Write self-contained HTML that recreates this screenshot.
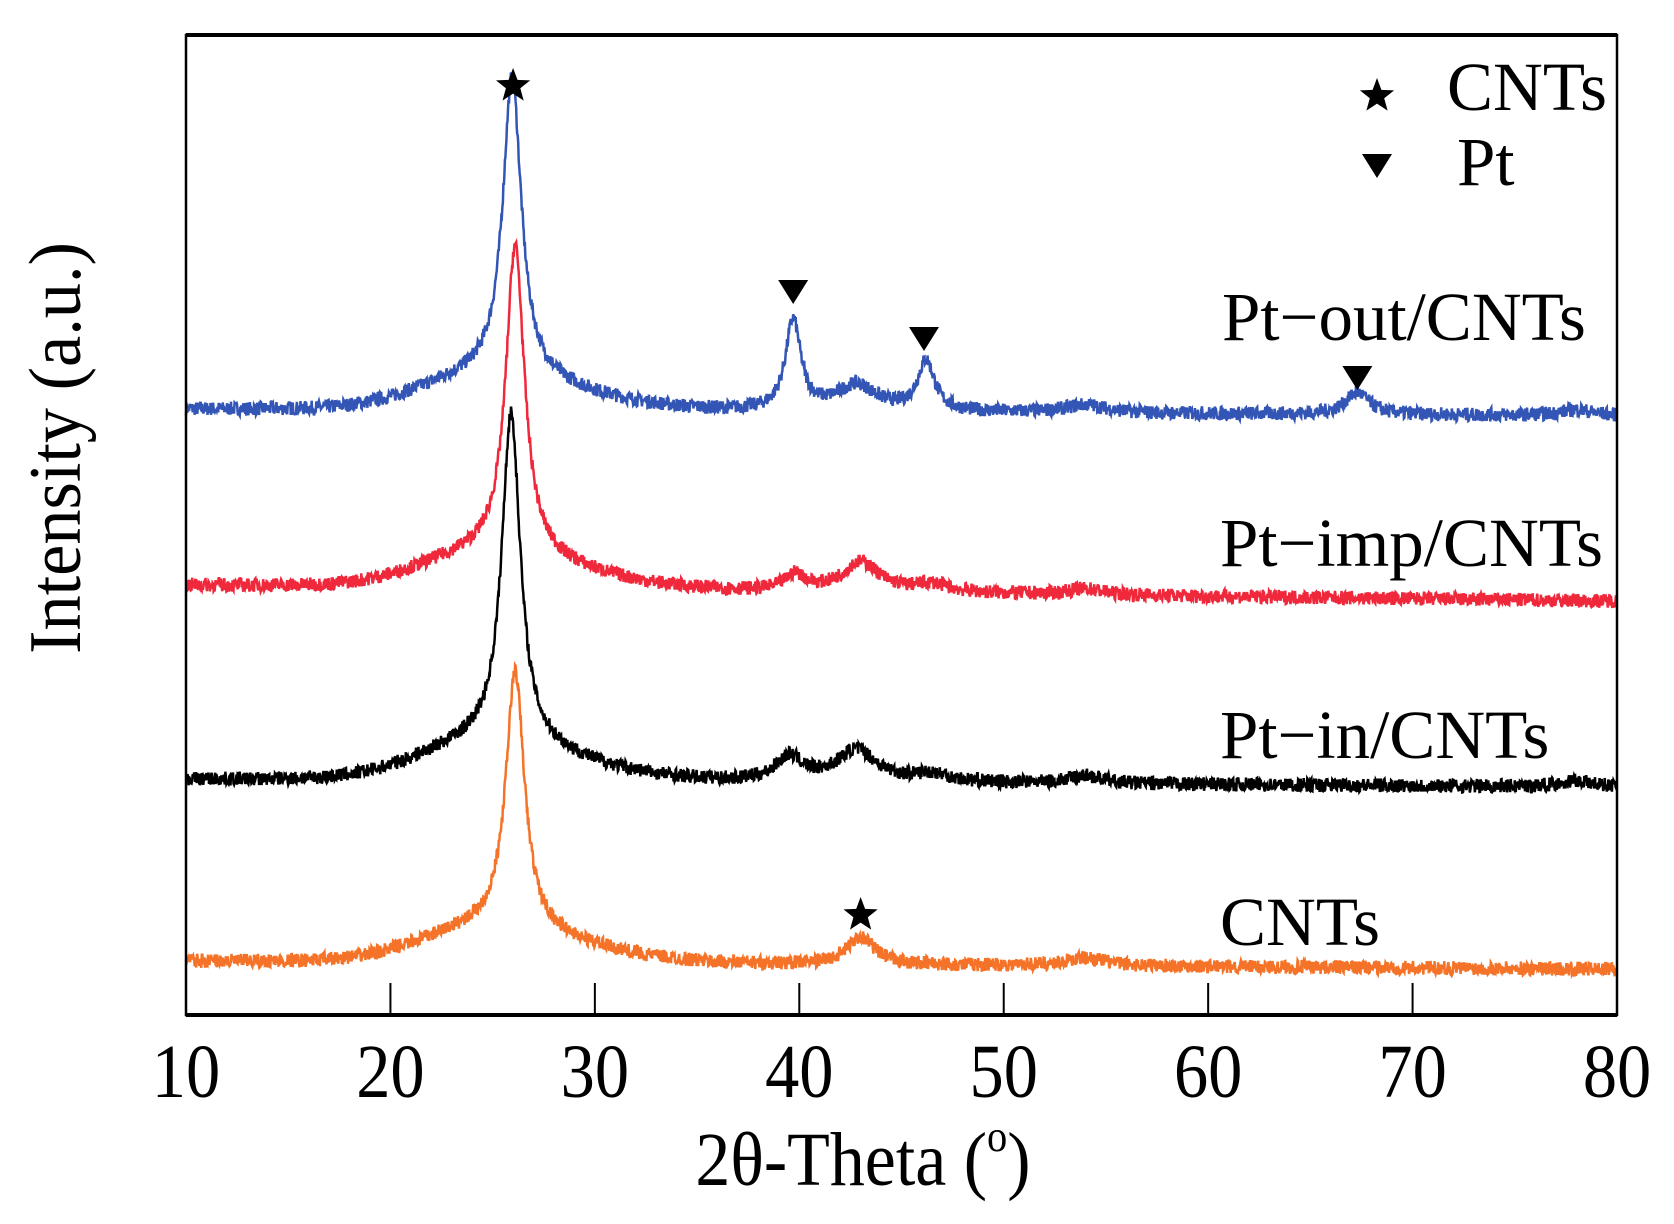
<!DOCTYPE html>
<html><head><meta charset="utf-8"><style>
html,body{margin:0;padding:0;background:#fff;}
svg{display:block;}
text{font-family:"Liberation Serif",serif;fill:#000;}
</style></head><body>
<svg id="s" width="1674" height="1224" viewBox="0 0 1674 1224" xmlns="http://www.w3.org/2000/svg">
<g id="curves"></g>
<rect x="186" y="35" width="1431" height="980" fill="none" stroke="#000" stroke-width="2.5"/>
<line x1="186" y1="1015" x2="1617" y2="1015" stroke="#000" stroke-width="4"/>
<line x1="186" y1="35" x2="1617" y2="35" stroke="#000" stroke-width="4"/>
<g id="ticks" stroke="#000" stroke-width="2"></g>
<g id="tl" font-size="76" text-anchor="middle"></g>
<text x="863" y="1185" font-size="76" text-anchor="middle" transform="translate(863 0) scale(0.92 1) translate(-863 0)">2θ-Theta (<tspan font-size="44" dy="-34">o</tspan><tspan dy="34">)</tspan></text>
<text transform="translate(80 448) rotate(-90) scale(0.95 1)" font-size="74" text-anchor="middle">Intensity (a.u.)</text>
<g font-size="69">
<text x="1222" y="340">Pt−out/CNTs</text>
<text x="1220" y="566">Pt−imp/CNTs</text>
<text x="1220" y="758">Pt−in/CNTs</text>
<text x="1220" y="945">CNTs</text>
<text x="1447" y="110">CNTs</text>
<text x="1457" y="185">Pt</text>
</g>
<g id="mk" fill="#000"></g>
</svg>
<script>
var X=function(t){return 186+(t-10)*20.443;};
var ns="http://www.w3.org/2000/svg";
var tk=document.getElementById('ticks'),tl=document.getElementById('tl');
for(var t=10;t<=80;t+=10){var x=X(t);
 if(t>10&&t<80){var l=document.createElementNS(ns,'line');l.setAttribute('x1',x);l.setAttribute('x2',x);l.setAttribute('y1',1015);l.setAttribute('y2',983);tk.appendChild(l);}
 var tx=document.createElementNS(ns,'text');tx.setAttribute('x',0);tx.setAttribute('y',1097);tx.setAttribute('transform','translate('+x+' 0) scale(0.9 1)');tx.textContent=t;tl.appendChild(tx);}
var seed=7;function rnd(){seed=(seed*16807)%2147483647;return seed/2147483647;}
function lor(t,c,w){return 1/(1+Math.pow((t-c)/w,2));}
function gau(t,c,w){return Math.exp(-Math.pow((t-c)/w,2));}
var series=[
 {c:'#3355b5',b0:409,b1:416,p:[[25.95,300,0.55],[39.7,90,0.45],[42.8,26,1.2],[46.2,50,0.5],[54,8,1.2],[67.3,22,0.7],[78,6,1]],sh:30},
 {c:'#f0283c',b0:585,b1:601,p:[[26.1,310,0.55],[39.8,16,0.6],[43,30,1.1],[46.5,8,1],[54,6,1]],sh:30},
 {c:'#000000',b0:779,b1:787,p:[[25.9,330,0.55],[39.5,24,0.8],[42.8,32,1.2],[46.5,8,1],[54,8,1],[78,6,1]],sh:34},
 {c:'#f57328',b0:961,b1:969,p:[[26.1,258,0.55],[43,28,0.8],[54,8,1.2]],sh:30}
];
var g=document.getElementById('curves');
series.forEach(function(s){
 var d='';
 for(var i=0;i<=2800;i++){var t=10+70*i/2800;
  var y=s.b0+(s.b1-s.b0)*(t-10)/70;
  var h=0;s.p.forEach(function(p){h+=p[1]*lor(t,p[0],p[2]);});
  h+=s.sh*gau(t,24.5,4.5)+10*gau(t,29,5);
  y-=h+(rnd()-0.5)*14;
  d+=(i?'L':'M')+X(t).toFixed(1)+' '+y.toFixed(1);}
 var pa=document.createElementNS(ns,'path');pa.setAttribute('d',d);pa.setAttribute('fill','none');pa.setAttribute('stroke',s.c);pa.setAttribute('stroke-width','2.5');g.appendChild(pa);
});
var mk=document.getElementById('mk');
function star(cx,cy,r){var pts=[];for(var k=0;k<10;k++){var a=-Math.PI/2+k*Math.PI/5,rr=k%2?r*0.42:r;pts.push((cx+rr*Math.cos(a)).toFixed(1)+','+(cy+rr*Math.sin(a)).toFixed(1));}
 var p=document.createElementNS(ns,'polygon');p.setAttribute('points',pts.join(' '));mk.appendChild(p);}
function tri(cx,cy,r){var p=document.createElementNS(ns,'polygon');p.setAttribute('points',(cx-r)+','+(cy-r*0.8)+' '+(cx+r)+','+(cy-r*0.8)+' '+cx+','+(cy+r*0.8));mk.appendChild(p);}
star(X(26),86,18);star(X(43),915,18);star(1377,96,18);
tri(X(39.7),292,15);tri(X(46.1),339,15);tri(X(67.3),378,15);tri(1377,166,15);
</script>
</body></html>
